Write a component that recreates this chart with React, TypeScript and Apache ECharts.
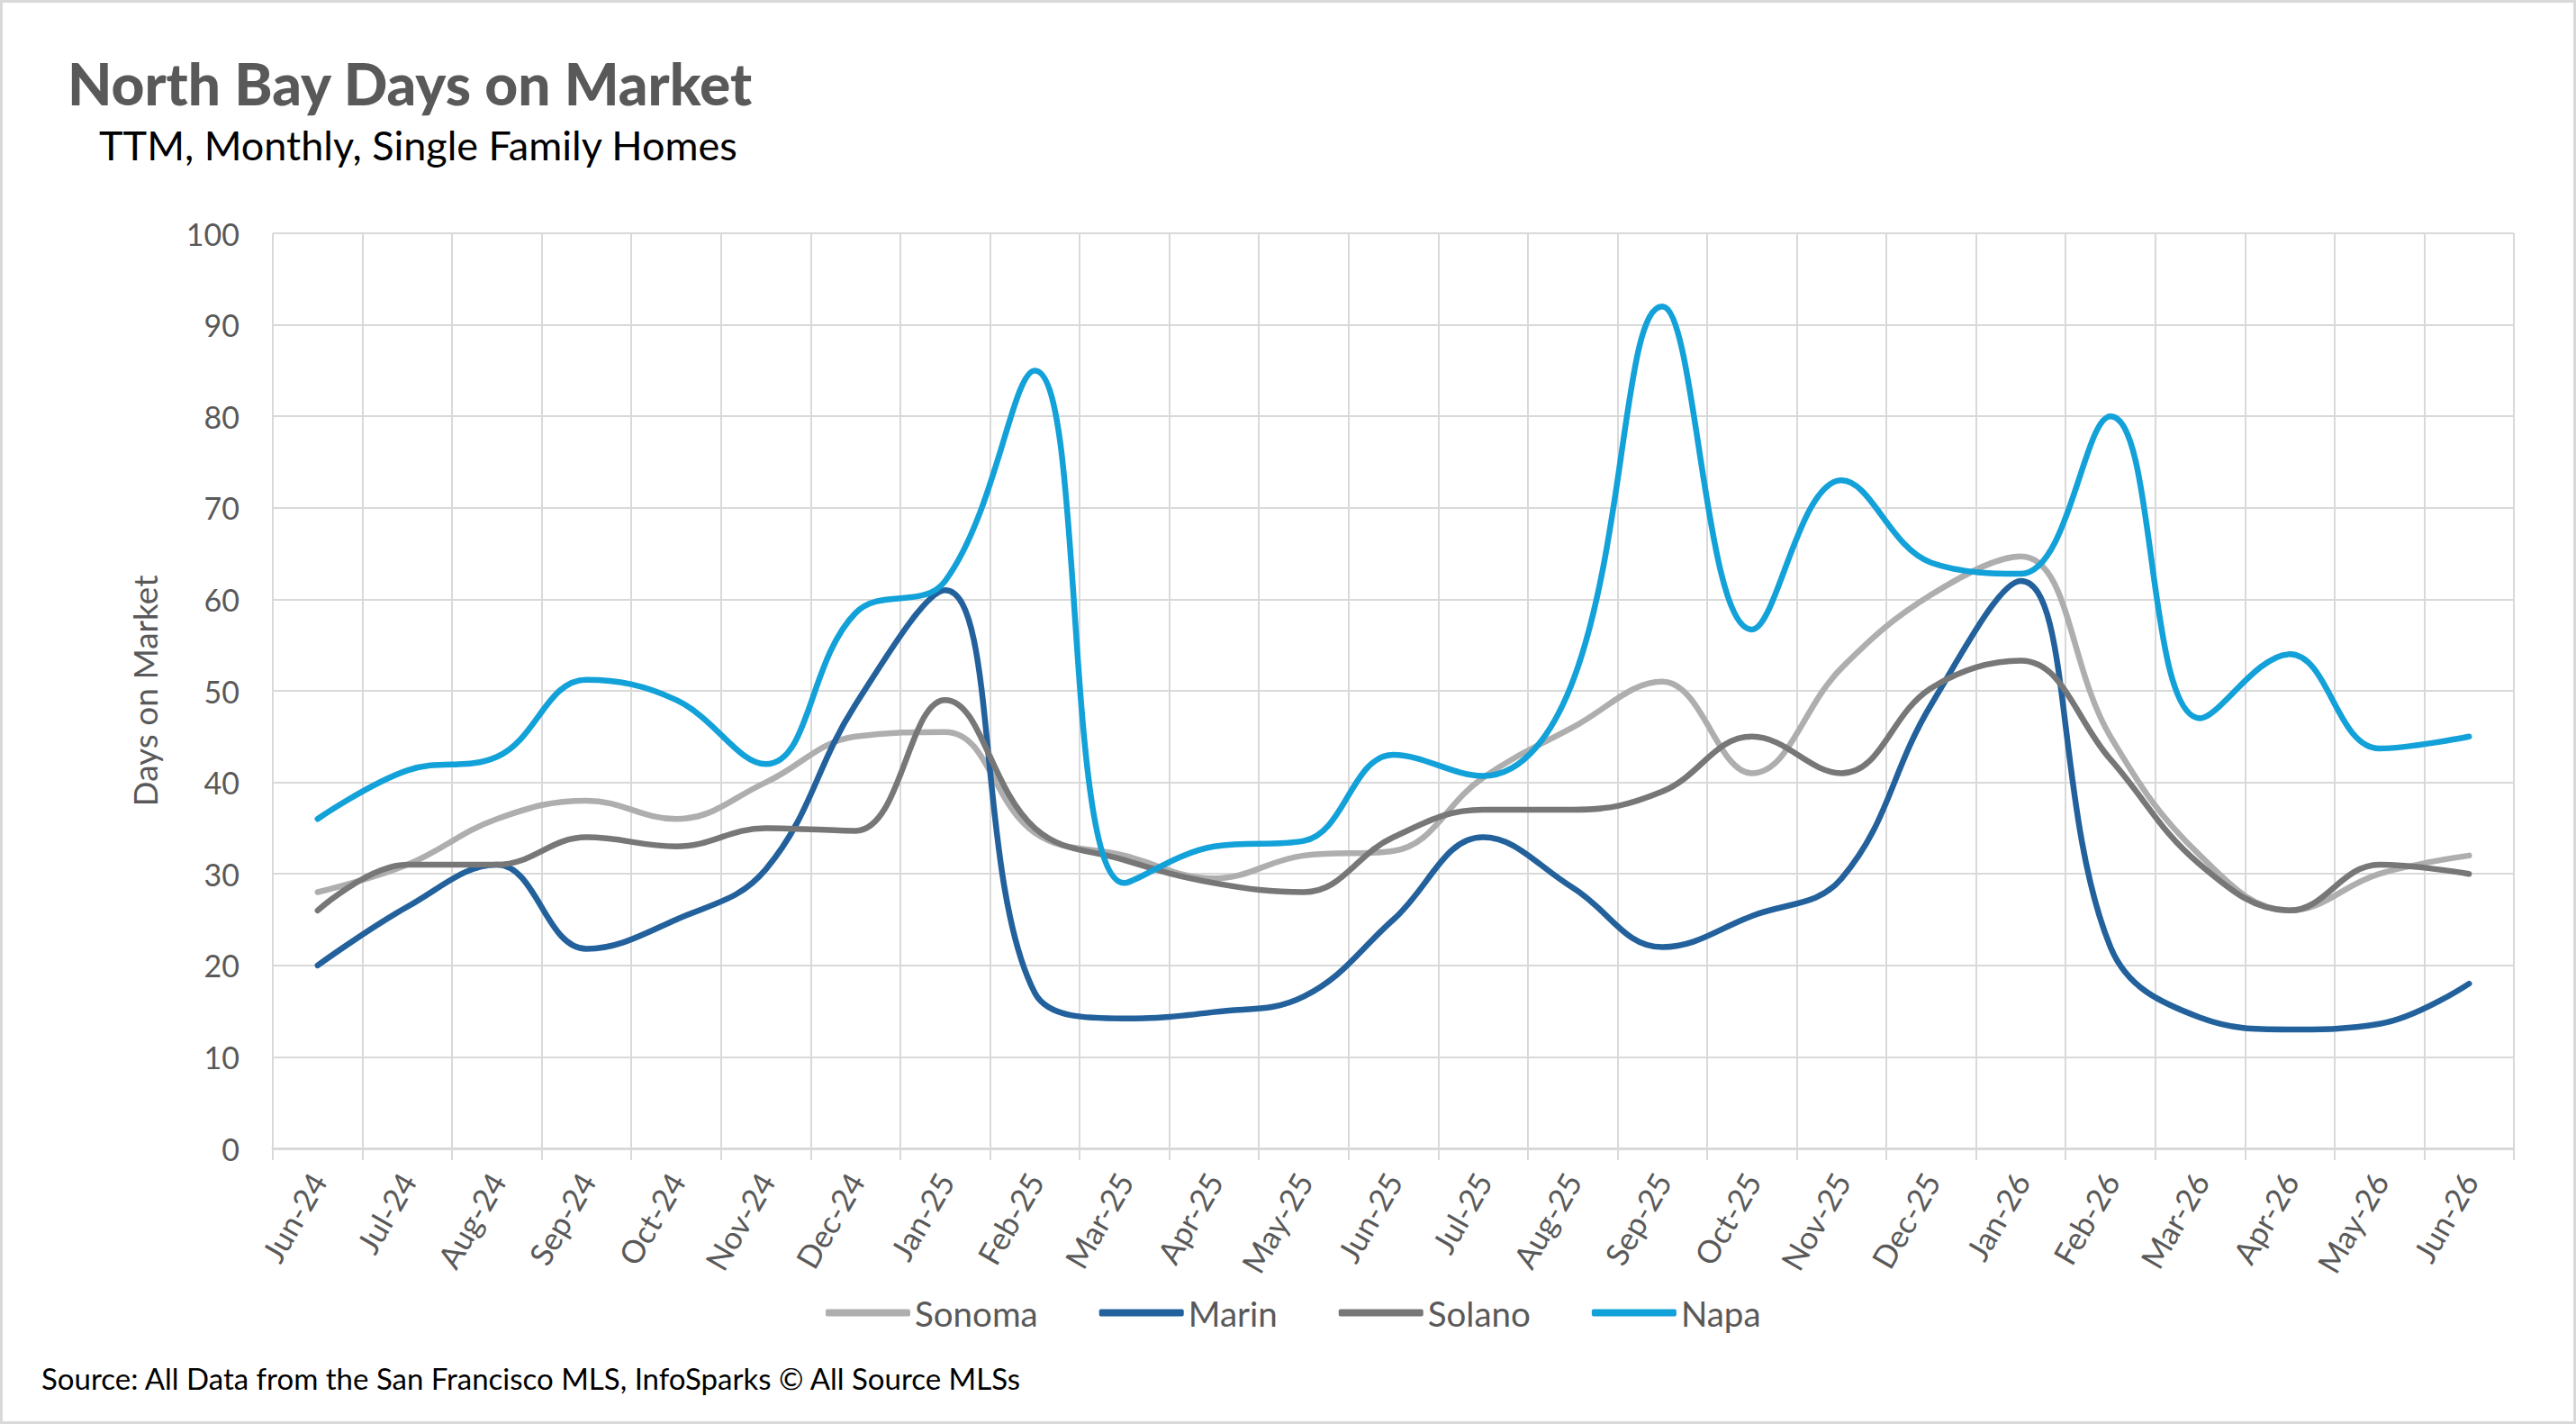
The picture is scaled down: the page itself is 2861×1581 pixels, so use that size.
import React, { useEffect, useRef } from "react";
import * as echarts from "echarts";

const categories = [
  "Jun-24", "Jul-24", "Aug-24", "Sep-24", "Oct-24", "Nov-24", "Dec-24",
  "Jan-25", "Feb-25", "Mar-25", "Apr-25", "May-25", "Jun-25", "Jul-25",
  "Aug-25", "Sep-25", "Oct-25", "Nov-25", "Dec-25", "Jan-26", "Feb-26",
  "Mar-26", "Apr-26", "May-26", "Jun-26",
];

const sonoma = [28, 31, 36, 38, 36, 40, 45, 45.5, 34.5, 32, 29.5, 32, 32.5, 40.5, 46, 51, 41, 52.5, 60.5, 64.7, 45, 32, 26, 30, 32];
const marin = [20, 26.4, 31, 21.8, 25, 30.5, 48.5, 61, 17, 14.2, 14.9, 16.6, 25, 34, 28.5, 22, 25.4, 29.5, 48.5, 62, 22, 14.3, 13, 13.6, 18];
const solano = [26, 31, 31, 34, 33, 35, 34.7, 49, 35, 31.5, 29, 28, 34, 37, 37, 39, 45, 41, 50.3, 53.3, 42.5, 31, 26, 31, 30];
const napa = [36, 41.3, 42.8, 51.2, 49, 42, 58.5, 62, 85, 29, 33, 33.6, 43, 40.7, 51, 92, 56.7, 73, 64, 62.8, 80, 47, 54, 43.7, 45];

const seriesNames = ["Sonoma", "Marin", "Solano", "Napa"];
const seriesColors = ["#AEAEAE", "#22619C", "#777777", "#12A1D8"];
const seriesData = [sonoma, marin, solano, napa];

const yTicks = { min: 0, max: 100, interval: 10 };

const FONT = "Lato, 'Open Sans', sans-serif";
const GRID = "#D9D9D9";
const TXT = "#595959";

export default function App() {
  const ref = useRef<HTMLDivElement>(null);
  useEffect(() => {
    document.body.style.margin = "0";
    const chart = echarts.init(ref.current!, null, { renderer: "svg" });
    chart.setOption({
      animation: false,
      backgroundColor: "#ffffff",
      textStyle: { fontFamily: FONT },
      grid: { left: 303, right: 69, top: 259, bottom: 306, containLabel: false },
      legend: {
        data: seriesNames,
        left: 917,
        top: 1438,
        padding: 0,
        itemWidth: 94,
        itemHeight: 8,
        itemGap: 68,
        icon: "roundRect",
        textStyle: { fontSize: 38.5, color: TXT, fontFamily: FONT },
      },
      xAxis: {
        type: "category",
        data: categories,
        boundaryGap: true,
        axisLine: { show: true, lineStyle: { color: GRID, width: 3 } },
        axisTick: { show: true, interval: 0, length: 13, lineStyle: { color: GRID, width: 2 } },
        axisLabel: { interval: 0, rotate: 60, fontSize: 35, color: TXT, margin: 30, fontFamily: FONT },
        splitLine: { show: true, interval: 0, lineStyle: { color: GRID, width: 2 } },
      },
      yAxis: {
        type: "value",
        min: yTicks.min,
        max: yTicks.max,
        interval: yTicks.interval,
        axisLine: { show: false },
        axisTick: { show: false },
        axisLabel: { fontSize: 34, color: TXT, margin: 37, fontFamily: FONT },
        splitLine: { show: true, lineStyle: { color: GRID, width: 2 } },
        name: "Days on Market",
        nameLocation: "middle",
        nameGap: 124,
        nameTextStyle: { fontSize: 37, color: TXT, fontFamily: FONT },
      },
      series: seriesNames.map((name, i) => ({
        name,
        type: "line",
        data: seriesData[i],
        smooth: 0.4,
        symbol: "none",
        showSymbol: false,
        color: seriesColors[i],
        lineStyle: { width: 6.5, color: seriesColors[i], cap: "round", join: "round" },
        emphasis: { disabled: true },
      })),
      graphic: [
        {
          type: "rect",
          shape: { x: 1.5, y: 1.5, width: 2858, height: 1578 },
          style: { fill: "none", stroke: GRID, lineWidth: 3 },
          silent: true,
        },
        {
          type: "text",
          x: 75,
          y: 92,
          style: {
            text: "North Bay Days on Market",
            font: `900 64px ${FONT}`,
            fill: TXT,
            textVerticalAlign: "middle",
          },
        },
        {
          type: "text",
          x: 110,
          y: 161,
          style: {
            text: "TTM, Monthly, Single Family Homes",
            font: `45px ${FONT}`,
            fill: "#000000",
            textVerticalAlign: "middle",
          },
        },
        {
          type: "text",
          x: 46,
          y: 1530,
          style: {
            text: "Source: All Data from the San Francisco MLS, InfoSparks © All Source MLSs",
            font: `33px ${FONT}`,
            fill: "#000000",
            textVerticalAlign: "middle",
          },
        },
      ],
    });
    return () => chart.dispose();
  }, []);
  return <div ref={ref} style={{ width: 2861, height: 1581 }} />;
}
